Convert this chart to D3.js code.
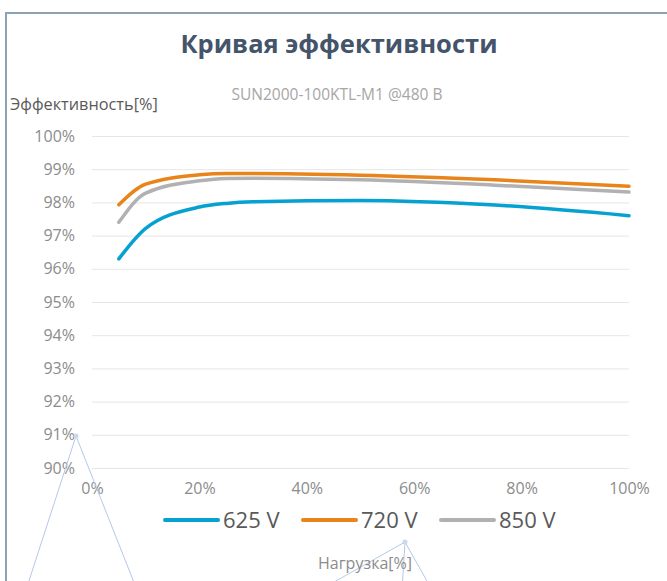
<!DOCTYPE html>
<html>
<head>
<meta charset="utf-8">
<script src="https://cdn.jsdelivr.net/npm/d3@7"></script>
<style>
  body { margin: 0; background: #fff; }
  svg { font-family: "Open Sans", sans-serif; display: block; }
</style>
</head>
<body>
<div id="chart"></div>
<script>
// chart size
const width = 667;
const height = 581;

// data
const loads = [5, 10, 20, 25, 30, 50, 75, 100];
const eff625 = [96.3, 97.22, 97.86, 97.97, 98.02, 98.06, 97.92, 97.6];
const eff720 = [97.93, 98.55, 98.83, 98.87, 98.87, 98.82, 98.68, 98.49];
const eff850 = [97.4, 98.28, 98.65, 98.72, 98.73, 98.68, 98.52, 98.31];
const seriesNames = ["625 V", "720 V", "850 V"];
const seriesColors = ["#05a1d0", "#e8841a", "#b1b1b3"];
const xTicks = [0, 20, 40, 60, 80, 100];
const yTicks = [90, 91, 92, 93, 94, 95, 96, 97, 98, 99, 100];

const series = [eff625, eff720, eff850].map((vals, i) => ({
  name: seriesNames[i],
  color: seriesColors[i],
  values: loads.map((l, j) => ({ x: l, y: vals[j] }))
}));

const svg = d3.select('#chart')
  .append('svg')
  .attr('width', width)
  .attr('height', height);

// outer frame
svg.append('rect')
  .attr('x', 6)
  .attr('y', 13)
  .attr('width', width + 10)
  .attr('height', height + 10)
  .attr('fill', 'none')
  .attr('stroke', '#8ba3b5')
  .attr('stroke-width', 2);

// scales
const x = d3.scaleLinear().domain([0, 100]).range([92, 629]);
const y = d3.scaleLinear().domain([90, 100]).range([468, 136]);

// gridlines + y labels
const yAxis = svg.append('g')
  .attr('transform', `translate(${x(0)},0)`)
  .call(d3.axisLeft(y)
    .tickValues(yTicks)
    .tickFormat(d => d + '%')
    .tickSize(-(x(100) - x(0)))
    .tickPadding(17));
yAxis.select('.domain').remove();
yAxis.selectAll('.tick line').attr('stroke', '#e6e6e6').attr('stroke-width', 1);
yAxis.selectAll('.tick text')
  .attr('fill', '#8c8c8c')
  .style('font-size', '16px')
  .style('font-family', '"Open Sans", sans-serif');

// x labels
const xAxis = svg.append('g')
  .attr('transform', `translate(0,${y(90)})`)
  .call(d3.axisBottom(x)
    .tickValues(xTicks)
    .tickFormat(d => d + '%')
    .tickSize(0)
    .tickPadding(15));
xAxis.select('.domain').remove();
xAxis.selectAll('.tick text')
  .attr('fill', '#8c8c8c')
  .style('font-size', '16px')
  .style('font-family', '"Open Sans", sans-serif');

// curves
const line = d3.line()
  .x(d => x(d.x))
  .y(d => y(d.y))
  .curve(d3.curveMonotoneX);

svg.append('g')
  .selectAll('path')
  .data(series)
  .enter()
  .append('path')
  .attr('d', d => line(d.values))
  .attr('fill', 'none')
  .attr('stroke', d => d.color)
  .attr('stroke-width', 3.5)
  .attr('stroke-linecap', 'round')
  .attr('stroke-linejoin', 'round');

// titles
svg.append('text')
  .attr('x', 339)
  .attr('y', 53)
  .attr('text-anchor', 'middle')
  .attr('fill', '#44546a')
  .style('font-size', '25.5px')
  .style('font-weight', 'bold')
  .text('Кривая эффективности');

svg.append('text')
  .attr('x', 337)
  .attr('y', 100)
  .attr('text-anchor', 'middle')
  .attr('fill', '#a6a6a6')
  .style('font-size', '15.5px')
  .text('SUN2000-100KTL-M1 @480 В');

svg.append('text')
  .attr('x', 10)
  .attr('y', 110)
  .attr('fill', '#595959')
  .style('font-size', '16.3px')
  .text('Эффективность[%]');

// stray connector lines seen in the reference
const strayLines = [
  [[76, 436], [26, 590]],
  [[76, 436], [137, 590]],
  [[405, 542], [320, 590]],
  [[405, 542], [402, 590]],
  [[405, 542], [432, 590]]
];
const strayDots = [[76, 436], [405, 542]];
svg.append('g')
  .selectAll('line')
  .data(strayLines)
  .enter()
  .append('line')
  .attr('x1', d => d[0][0]).attr('y1', d => d[0][1])
  .attr('x2', d => d[1][0]).attr('y2', d => d[1][1])
  .attr('stroke', '#b4c8e8')
  .attr('stroke-width', 1);
svg.append('g')
  .selectAll('circle')
  .data(strayDots)
  .enter()
  .append('circle')
  .attr('cx', d => d[0]).attr('cy', d => d[1])
  .attr('r', 2.5)
  .attr('fill', '#c9d8f0');

svg.append('text')
  .attr('x', 365)
  .attr('y', 569)
  .attr('text-anchor', 'middle')
  .attr('fill', '#8c8c8c')
  .style('font-size', '16px')
  .text('Нагрузка[%]');

// legend
const legendX = [165, 303, 441];
const legend = svg.append('g')
  .selectAll('g')
  .data(series)
  .enter()
  .append('g')
  .attr('transform', (d, i) => `translate(${legendX[i]},520)`);
legend.append('line')
  .attr('x1', 0).attr('x2', 53)
  .attr('stroke', d => d.color)
  .attr('stroke-width', 4)
  .attr('stroke-linecap', 'round');
legend.append('text')
  .attr('x', 58)
  .attr('y', 8)
  .attr('fill', '#595959')
  .style('font-size', '22px')
  .text(d => d.name);
</script>
</body>
</html>
